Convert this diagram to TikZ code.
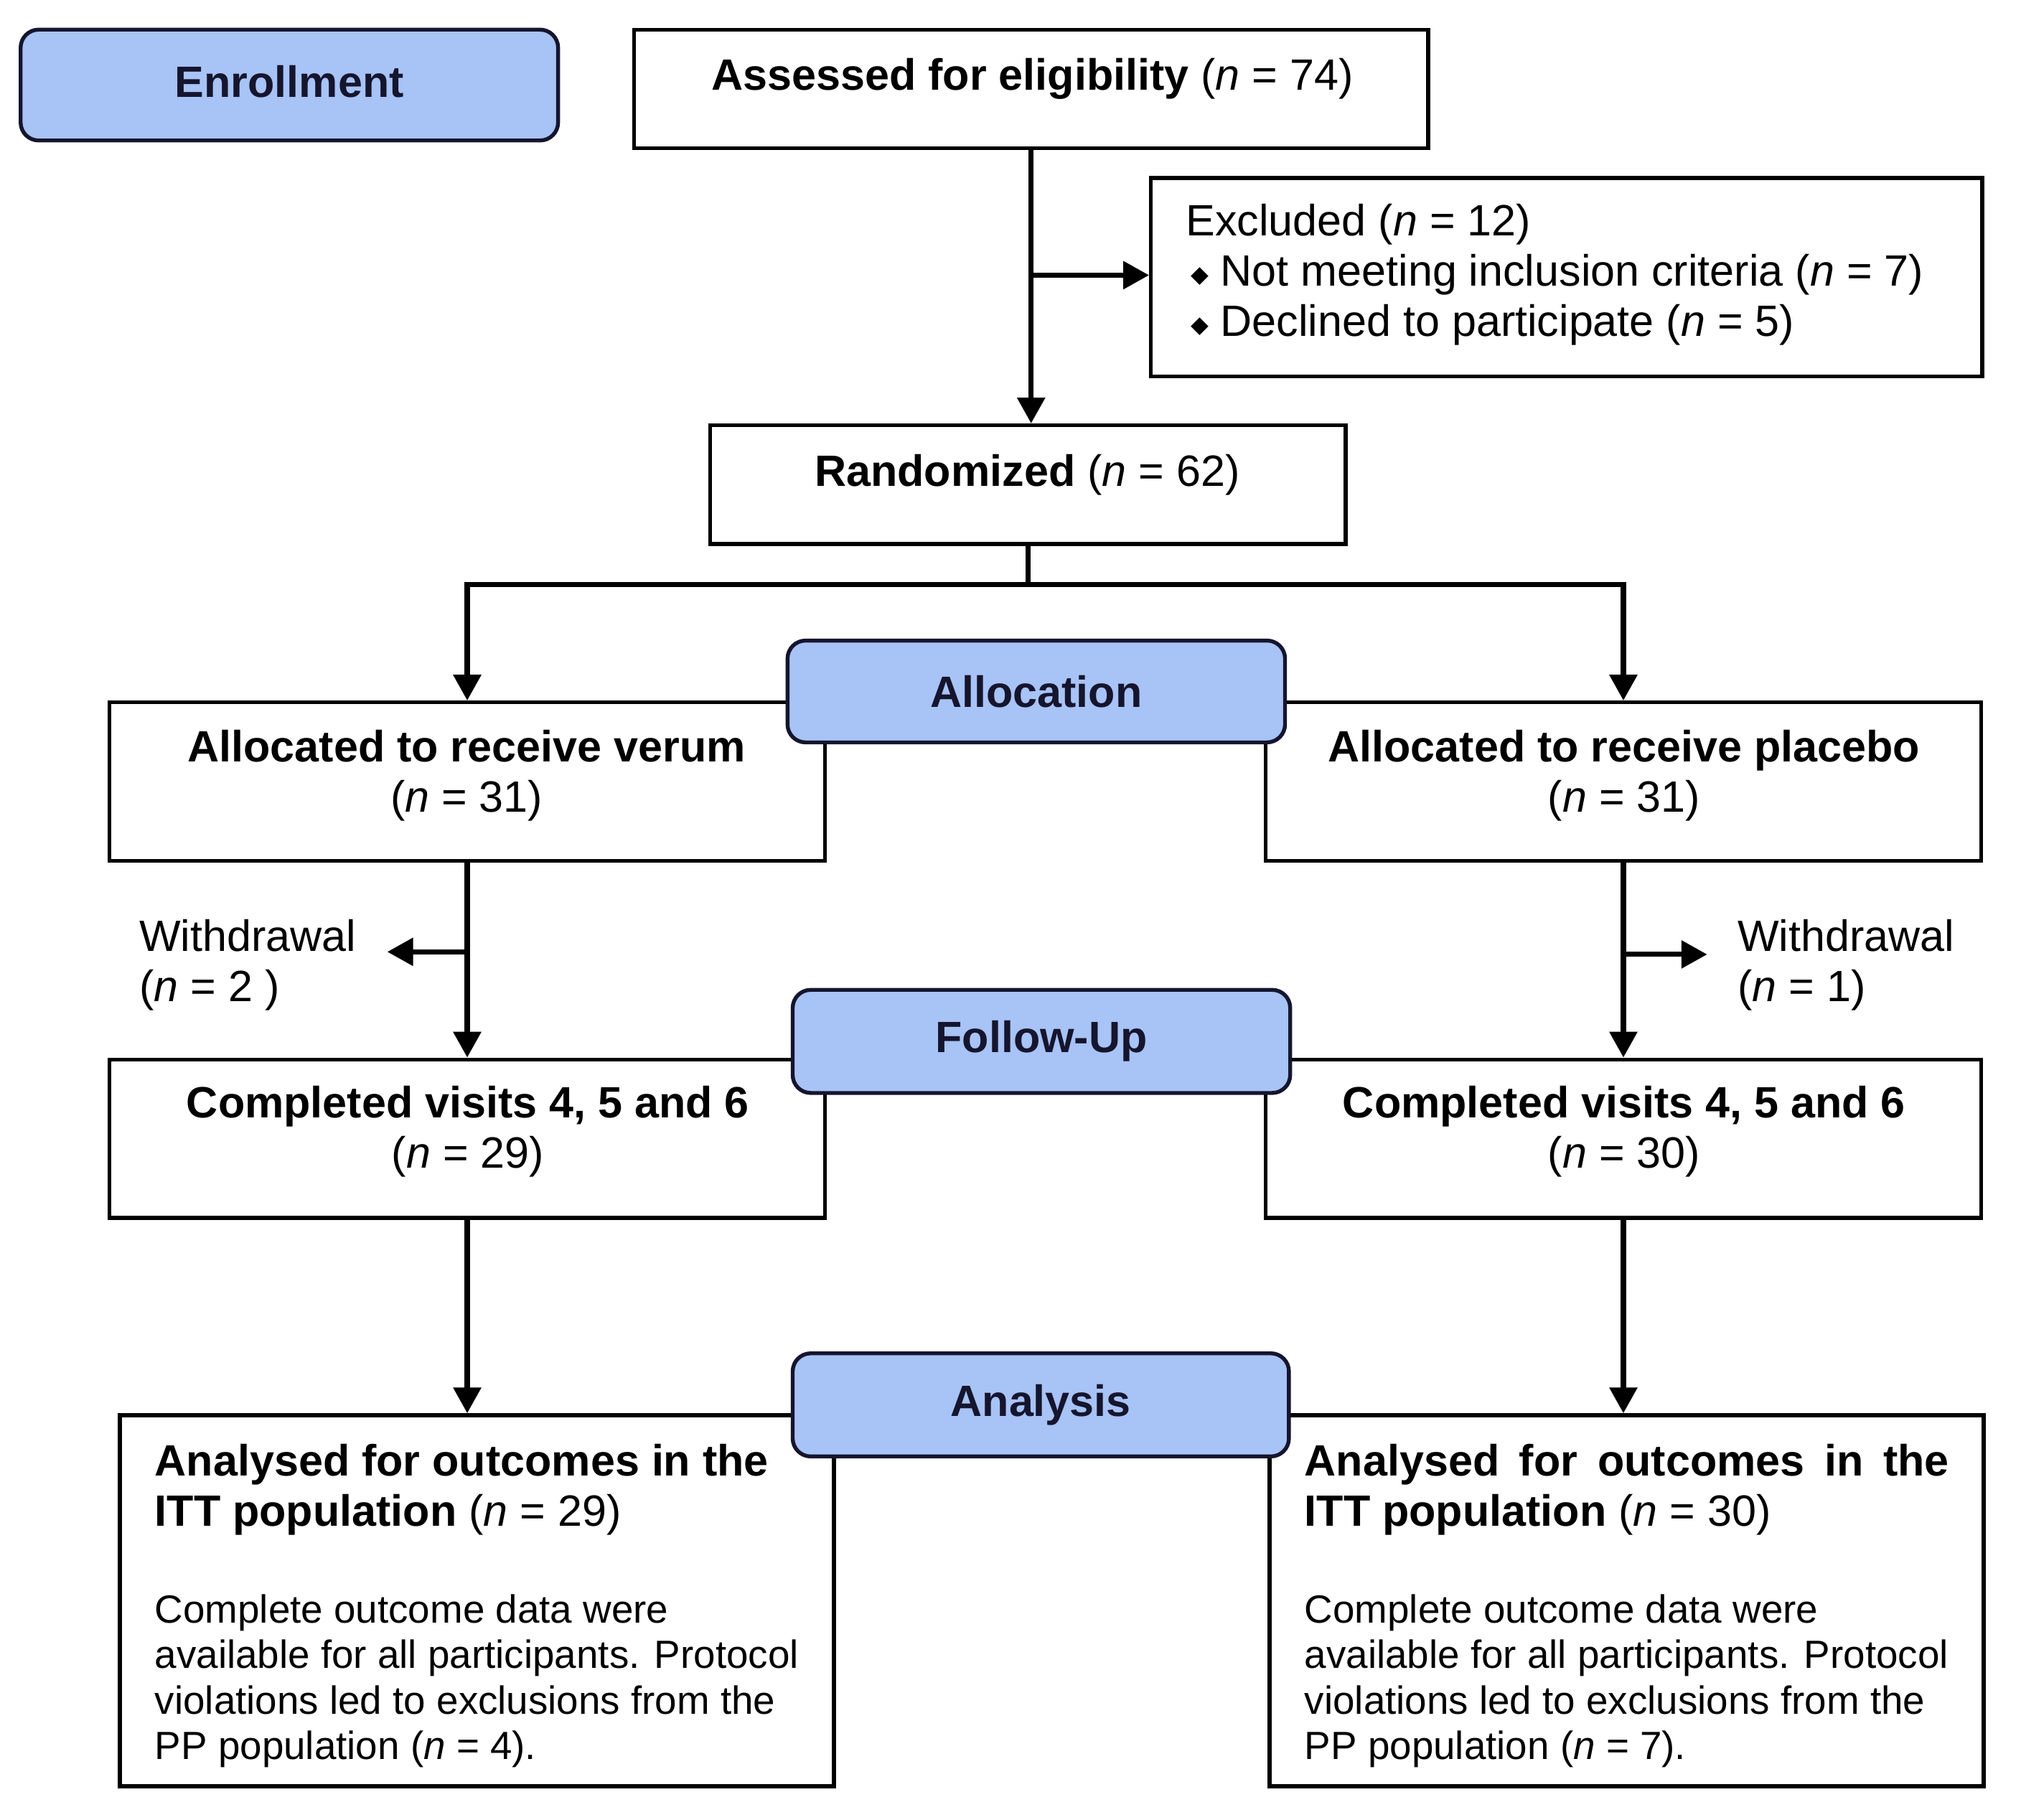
\documentclass[tikz,border=0pt]{standalone}
\usepackage{fontspec}
\setmainfont{Liberation Sans}
\newfontfamily\djvfont{DejaVu Sans}
\usetikzlibrary{arrows.meta}
\definecolor{boxblue}{HTML}{A8C3F5}
\definecolor{navy}{HTML}{15152E}
\newcommand\hdfont{\fontsize{34}{39}\selectfont\bfseries}
\newcommand\rgfont{\fontsize{34}{39}\selectfont}
\newcommand\prfont{\fontsize{30.5}{35.3}\selectfont}
\newcommand\nvar{\textit{n}}
\newcommand\dmnd{\hspace{4pt}\raisebox{3pt}{\djvfont\fontsize{18}{18}\selectfont ◆}\hspace{9pt}}
\tikzset{
  box/.style={draw, line width=3pt, rectangle, inner sep=0pt, fill=white},
  bluebox/.style={draw=navy, fill=boxblue, line width=3pt, rounded corners=14pt,
    inner sep=0pt, font=\hdfont, text=navy},
  txt/.style={inner sep=0pt, font=\rgfont},
  ptxt/.style={inner sep=0pt, font=\prfont},
  arr/.style={line width=4pt, -{Triangle[length=20pt,width=21pt]}},
  ln/.style={line width=4pt},
}
\begin{document}
\begin{tikzpicture}[x=1pt,y=-1pt]
\useasboundingbox (0,0) rectangle (1568,1412);
\fill[white] (0,0) rectangle (1568,1412);

% white boxes
\node[box, minimum width=616pt, minimum height=92pt] (assess) at (800,69) {};
\node[box, minimum width=645pt, minimum height=154pt] (excl) at (1215.5,215) {};
\node[box, minimum width=493pt, minimum height=92pt] (rand) at (797.5,376) {};
\node[box, minimum width=555pt, minimum height=123pt] (verum) at (362.5,606.5) {};
\node[box, minimum width=555pt, minimum height=123pt] (placebo) at (1259.5,606.5) {};
\node[box, minimum width=555pt, minimum height=123pt] (compV) at (362.5,883.5) {};
\node[box, minimum width=555pt, minimum height=123pt] (compP) at (1259.5,883.5) {};
\node[box, minimum width=554pt, minimum height=288pt] (anV) at (370,1242) {};
\node[box, minimum width=554pt, minimum height=288pt] (anP) at (1262,1242) {};

% connectors
\draw[arr] (assess.south) -- (assess.south |- rand.north);
\path (assess.south) ++(0,97) coordinate (bx);
\draw[arr] (bx) -- (bx -| excl.west);
\path (rand.south) ++(0,30) coordinate (sp);
\draw[ln] (rand.south) -- (sp);
\draw[arr] (sp) -| (verum.north);
\draw[arr] (sp) -| (placebo.north);
\draw[arr] (verum.south) -- (compV.north);
\draw[arr] (placebo.south) -- (compP.north);
\path (verum.south) ++(0,69) coordinate (wv);
\path (wv) ++(-62,0) coordinate (wvend);
\draw[arr] (wv) -- (wvend);
\path (placebo.south) ++(0,71) coordinate (wp);
\path (wp) ++(65,0) coordinate (wpend);
\draw[arr] (wp) -- (wpend);
\draw[arr] (compV.south) -- (compV.south |- anV.north);
\draw[arr] (compP.south) -- (compP.south |- anP.north);

% blue stage boxes
\node[bluebox, minimum width=417pt, minimum height=86pt] (enroll) at (224.5,66) {\raisebox{6pt}{Enrollment}};
\node[bluebox, minimum width=386pt, minimum height=79pt] (alloc) at (804,536.5) {Allocation};
\node[bluebox, minimum width=386pt, minimum height=80pt] (follow) at (808,808) {\raisebox{2pt}{Follow-Up}};
\node[bluebox, minimum width=385pt, minimum height=80pt] (analysis) at (807.5,1090) {\raisebox{3pt}{Analysis}};

% texts
\node[txt, anchor=base] (t-assess) at (801,70) {{\hdfont Assessed for eligibility} (\nvar{} = 74)};
\node[txt, anchor=base west, align=left] (t-excl) at (920,261)
  {Excluded (\nvar{} = 12)\\\dmnd Not meeting inclusion criteria (\nvar{} = 7)\\\dmnd Declined to participate (\nvar{} = 5)};
\node[txt, anchor=base] (t-rand) at (797,377) {{\hdfont Randomized} (\nvar{} = 62)};
\node[txt, anchor=base, align=center] (t-verum) at (362,630) {{\hdfont Allocated to receive verum}\\(\nvar{} = 31)};
\node[txt, anchor=base, align=center] (t-placebo) at (1260,630) {{\hdfont Allocated to receive placebo}\\(\nvar{} = 31)};
\node[txt, anchor=base west, align=left] (t-wv) at (108,777) {Withdrawal\\(\nvar{} = 2 )};
\node[txt, anchor=base west, align=left] (t-wp) at (1348,777) {Withdrawal\\(\nvar{} = 1)};
\node[txt, anchor=base, align=center] (t-compV) at (363,906) {{\hdfont Completed visits 4, 5 and 6}\\(\nvar{} = 29)};
\node[txt, anchor=base, align=center] (t-compP) at (1260,906) {{\hdfont Completed visits 4, 5 and 6}\\(\nvar{} = 30)};
\node[txt, anchor=base west, align=left] (t-anV) at (120,1184)
  {{\hdfont Analysed for outcomes in the}\\{\hdfont ITT population} (\nvar{} = 29)};
\node[txt, anchor=base west, align=left] (t-anP) at (1012,1184)
  {\makebox[500pt][s]{\hdfont Analysed for outcomes in the}\\{\hdfont ITT population} (\nvar{} = 30)};
\node[ptxt, anchor=base west, align=left] (p-anV) at (120,1365)
  {Complete outcome data were\\available for all participants. Protocol\\violations led to exclusions from the\\PP population (\nvar{} = 4).};
\node[ptxt, anchor=base west, align=left] (p-anP) at (1012,1365)
  {Complete outcome data were\\available for all participants. Protocol\\violations led to exclusions from the\\PP population (\nvar{} = 7).};
\end{tikzpicture}
\end{document}
